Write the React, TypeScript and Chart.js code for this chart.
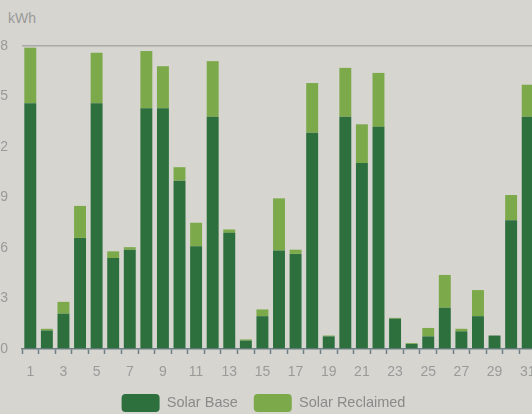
import React, { useEffect, useRef } from "react";
import { Chart, registerables } from "chart.js";

Chart.register(...registerables);

const days = Array.from({ length: 31 }, (_, i) => String(i + 1));
const solarBase = [14.6, 1.1, 2.1, 6.6, 14.6, 5.4, 5.9, 14.3, 14.3, 10.0, 6.1, 13.8, 6.9, 0.5, 1.95, 5.85, 5.65, 12.85, 0.75, 13.8, 11.05, 13.2, 1.8, 0.3, 0.75, 2.45, 1.05, 1.95, 0.8, 7.65, 13.8];
const solarReclaimed = [3.3, 0.1, 0.7, 1.9, 3.0, 0.4, 0.15, 3.4, 2.5, 0.8, 1.4, 3.3, 0.2, 0.07, 0.4, 3.1, 0.25, 2.95, 0.05, 2.9, 2.3, 3.2, 0.05, 0.05, 0.5, 1.95, 0.15, 1.55, 0.0, 1.5, 1.9];
const yTicks = [0, 3, 6, 9, 12, 15, 18];

const BG = "#d7d5d0";
const DARK = "#2d703e";
const LIGHT = "#7caa4b";
const TEXT = "#9a9a9a";

export default function App() {
  const ref = useRef<HTMLCanvasElement | null>(null);
  useEffect(() => {
    if (!ref.current) return;
    const chart = new Chart(ref.current, {
      type: "bar",
      data: {
        labels: days,
        datasets: [
          { label: "Solar Base", data: solarBase, backgroundColor: DARK, categoryPercentage: 0.72, barPercentage: 1 },
          { label: "Solar Reclaimed", data: solarReclaimed, backgroundColor: LIGHT, categoryPercentage: 0.72, barPercentage: 1 },
        ],
      },
      options: {
        animation: false,
        responsive: true,
        maintainAspectRatio: false,
        layout: { padding: { top: 46, right: 14, left: 21, bottom: 0 } },
        plugins: {
          tooltip: { enabled: false },
          legend: {
            position: "bottom",
            labels: {
              color: "#8a8a8a",
              font: { family: "Liberation Sans", size: 14.5 },
              boxWidth: 38,
              boxHeight: 18,
              padding: 16,
              useBorderRadius: true,
              borderRadius: 4,
            },
          },
        },
        scales: {
          x: {
            stacked: true,
            grid: { drawOnChartArea: false, color: "#6f7f86", tickLength: 5, tickWidth: 1.5 },
            border: { display: true, color: "#6f7f86", width: 1.5 },
            ticks: {
              color: TEXT,
              font: { family: "Liberation Sans", size: 14 },
              maxRotation: 0,
              autoSkip: false,
              padding: 10,
              callback: (v: any, i: number) => (i % 2 === 0 ? days[i] : ""),
            },
            afterFit: (s: any) => { s.height = 29; },
          },
          y: {
            stacked: true,
            min: 0,
            max: 18,
            afterBuildTicks: (s: any) => { s.ticks = yTicks.map((v) => ({ value: v })); },
            grid: {
              drawTicks: false,
              color: (c: any) => (c.tick && c.tick.value === 18 ? "#a9a9a7" : "rgba(0,0,0,0)"),
              lineWidth: 1.5,
            },
            border: { display: false },
            ticks: { color: TEXT, font: { family: "Liberation Sans", size: 14 }, padding: 14 },
            afterFit: (s: any) => { s.width = 31; },
          },
        },
      },
    });
    return () => chart.destroy();
  }, []);
  return (
    <div style={{ position: "fixed", inset: 0, background: BG, overflow: "hidden" }}>
      <div style={{ position: "absolute", left: 8, top: 10, color: TEXT, fontFamily: "Liberation Sans", fontSize: 14 }}>kWh</div>
      <div style={{ position: "absolute", left: -30, top: 0, width: 580, height: 422 }}>
        <canvas ref={ref} />
      </div>
    </div>
  );
}
